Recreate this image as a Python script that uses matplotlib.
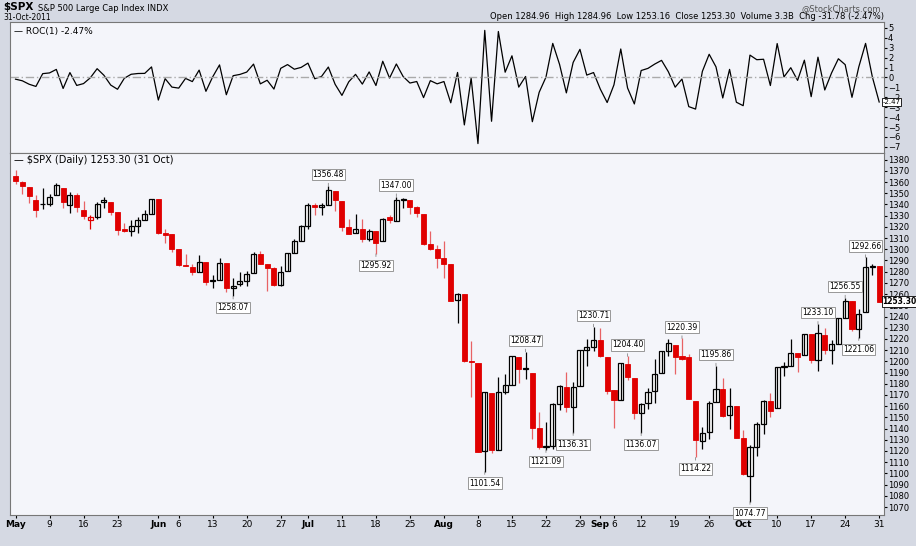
import matplotlib

matplotlib.use("Agg")
import matplotlib.pyplot as plt
import numpy as np

# S&P 500 daily, 2 May - 31 Oct 2011
dates = (
    [f"May {d}" for d in [2, 3, 4, 5, 6, 9, 10, 11, 12, 13, 16, 17, 18, 19, 20, 23, 24, 25, 26, 27, 31]]
    + [f"Jun {d}" for d in [1, 2, 3, 6, 7, 8, 9, 10, 13, 14, 15, 16, 17, 20, 21, 22, 23, 24, 27, 28, 29, 30]]
    + [f"Jul {d}" for d in [1, 5, 6, 7, 8, 11, 12, 13, 14, 15, 18, 19, 20, 21, 22, 25, 26, 27, 28, 29]]
    + [f"Aug {d}" for d in [1, 2, 3, 4, 5, 8, 9, 10, 11, 12, 15, 16, 17, 18, 19, 22, 23, 24, 25, 26, 29, 30, 31]]
    + [f"Sep {d}" for d in [1, 2, 6, 7, 8, 9, 12, 13, 14, 15, 16, 19, 20, 21, 22, 23, 26, 27, 28, 29, 30]]
    + [f"Oct {d}" for d in [3, 4, 5, 6, 7, 10, 11, 12, 13, 14, 17, 18, 19, 20, 21, 24, 25, 26, 27, 28, 31]]
)
prev_close = 1363.61

opens = [1365.2, 1359.8, 1355.9, 1344.2, 1340.2, 1340.2, 1348.3, 1354.5, 1339.4, 1348.7, 1334.8, 1326.1, 1328.5, 1342.4, 1342.0, 1333.1, 1317.7, 1316.4, 1320.6, 1325.7, 1331.1,
         1345.2, 1314.6, 1313.6, 1300.3, 1286.3, 1284.6, 1279.6, 1288.6, 1271.6, 1272.2, 1287.9, 1265.5, 1268.6, 1271.5, 1278.4, 1295.5, 1286.6, 1283.0, 1268.4, 1280.2, 1296.8, 1307.6,
         1320.6, 1339.6, 1337.6, 1339.6, 1352.0, 1343.3, 1319.6, 1314.5, 1317.7, 1308.9, 1315.9, 1307.1, 1328.7, 1325.6, 1343.8, 1344.3, 1337.4, 1331.9, 1304.8, 1300.1,
         1292.6, 1286.6, 1254.3, 1260.2, 1200.3, 1198.5, 1120.2, 1171.8, 1121.3, 1172.9, 1178.9, 1204.2, 1192.9, 1189.6, 1140.5, 1123.6, 1124.4, 1162.2, 1176.7, 1158.9, 1177.9, 1209.8, 1213.0,
         1219.1, 1203.9, 1174.0, 1165.9, 1198.0, 1185.4, 1153.5, 1162.6, 1173.3, 1189.4, 1209.2, 1215.0, 1204.5, 1203.6, 1164.6, 1128.8, 1136.9, 1163.3, 1175.4, 1151.7, 1159.9,
         1131.2, 1097.4, 1124.0, 1144.1, 1165.0, 1158.1, 1194.6, 1196.2, 1207.0, 1205.7, 1224.5, 1200.8, 1223.5, 1209.9, 1215.4, 1238.7, 1254.0, 1229.2, 1244.0, 1284.4, 1285.0]
highs = [1370.58, 1360.8, 1355.9, 1348.0, 1354.4, 1349.4, 1359.4, 1354.5, 1351.1, 1350.5, 1343.3, 1330.4, 1341.8, 1346.8, 1342.0, 1333.1, 1323.7, 1325.9, 1328.5, 1334.6, 1345.2,
         1345.2, 1318.0, 1313.6, 1300.3, 1296.2, 1287.0, 1294.5, 1288.6, 1277.0, 1292.5, 1287.9, 1274.1, 1279.8, 1280.4, 1297.6, 1298.6, 1286.8, 1284.0, 1284.9, 1296.8, 1309.2, 1322.0,
         1341.0, 1340.9, 1340.9, 1356.48, 1352.0, 1343.3, 1327.2, 1331.5, 1326.7, 1317.7, 1315.9, 1328.1, 1330.4, 1347.0, 1346.1, 1344.3, 1338.5, 1331.9, 1316.3, 1304.2,
         1307.4, 1286.6, 1261.2, 1260.2, 1218.1, 1198.5, 1172.9, 1171.8, 1186.3, 1189.0, 1204.5, 1204.2, 1208.47, 1189.6, 1154.5, 1145.5, 1162.4, 1178.5, 1190.7, 1181.2, 1210.1, 1220.1, 1230.71,
         1229.3, 1203.9, 1174.0, 1198.6, 1204.40, 1185.4, 1162.5, 1176.4, 1202.4, 1209.1, 1220.1, 1215.0, 1220.39, 1206.3, 1164.6, 1141.7, 1164.2, 1195.86, 1184.7, 1175.9, 1159.9,
         1139.0, 1125.1, 1146.1, 1165.6, 1171.4, 1194.9, 1199.2, 1220.3, 1207.5, 1224.6, 1224.5, 1233.10, 1229.6, 1219.4, 1239.0, 1256.55, 1254.0, 1246.3, 1292.66, 1287.1, 1284.96]
lows = [1358.6, 1349.5, 1341.5, 1329.2, 1335.6, 1338.6, 1348.3, 1336.4, 1332.0, 1333.4, 1327.3, 1318.5, 1326.6, 1336.4, 1330.7, 1312.9, 1315.4, 1311.8, 1314.4, 1325.7, 1331.1,
        1313.7, 1305.6, 1297.9, 1284.9, 1284.7, 1277.4, 1279.6, 1268.3, 1265.6, 1272.2, 1261.9, 1258.07, 1267.4, 1267.6, 1278.4, 1286.8, 1262.9, 1267.5, 1267.5, 1280.2, 1296.8, 1307.6,
        1318.2, 1330.9, 1330.9, 1339.6, 1333.7, 1316.4, 1313.3, 1314.5, 1306.5, 1307.3, 1295.92, 1307.1, 1323.7, 1325.6, 1336.9, 1331.1, 1329.1, 1303.5, 1299.2, 1282.9,
        1274.7, 1254.0, 1234.6, 1199.5, 1168.1, 1119.3, 1101.54, 1118.0, 1121.3, 1170.7, 1178.9, 1180.5, 1184.4, 1131.0, 1122.1, 1121.09, 1121.7, 1156.3, 1155.0, 1135.91, 1177.9, 1195.8, 1209.4,
        1203.9, 1170.6, 1140.1, 1165.9, 1183.3, 1148.4, 1136.07, 1157.4, 1162.7, 1189.4, 1204.5, 1188.4, 1201.3, 1166.2, 1114.22, 1121.4, 1131.1, 1163.3, 1150.4, 1139.9, 1131.3,
        1098.9, 1074.77, 1115.7, 1134.9, 1150.3, 1158.1, 1187.3, 1196.2, 1190.6, 1205.7, 1198.6, 1191.5, 1206.3, 1197.3, 1215.4, 1238.7, 1226.8, 1221.06, 1244.0, 1277.0, 1253.16]
closes = [1361.22, 1356.62, 1347.32, 1335.10, 1340.20, 1346.29, 1357.16, 1342.08, 1348.65, 1337.77, 1329.47, 1328.98, 1340.68, 1343.60, 1333.27, 1317.37, 1316.28, 1320.47, 1325.69, 1331.10, 1345.20,
          1314.55, 1312.94, 1300.16, 1286.17, 1284.94, 1279.56, 1289.00, 1270.98, 1271.83, 1287.87, 1265.42, 1267.64, 1271.50, 1278.36, 1295.52, 1287.14, 1283.50, 1268.45, 1280.10, 1296.67, 1307.41, 1320.64,
          1339.67, 1337.88, 1339.22, 1353.22, 1343.80, 1319.49, 1313.64, 1317.72, 1308.87, 1316.14, 1305.44, 1326.73, 1325.84, 1343.80, 1345.02, 1337.43, 1331.94, 1304.89, 1300.67, 1292.28,
          1286.94, 1254.05, 1260.34, 1200.07, 1199.38, 1119.46, 1172.53, 1120.76, 1172.64, 1178.81, 1204.49, 1192.76, 1193.89, 1140.65, 1123.53, 1123.82, 1162.35, 1177.60, 1159.27, 1176.80, 1210.08, 1212.92, 1218.89,
          1204.42, 1173.97, 1165.24, 1198.62, 1185.90, 1154.23, 1162.27, 1172.87, 1188.68, 1209.11, 1216.01, 1204.09, 1202.09, 1166.76, 1129.56, 1136.43, 1162.95, 1175.38, 1151.06, 1160.40, 1131.42,
          1099.23, 1123.95, 1144.03, 1164.97, 1155.46, 1194.89, 1195.54, 1207.25, 1203.66, 1224.58, 1200.86, 1225.38, 1209.88, 1215.39, 1238.25, 1254.19, 1229.05, 1242.00, 1284.59, 1285.09, 1253.30]

# labelled highs and lows: (date, value, above?)
labels = [("Jul 7", 1356.48, True), ("Jul 21", 1347.00, True), ("Jul 18", 1295.92, False),
          ("Jun 16", 1258.07, False), ("Aug 9", 1101.54, False), ("Aug 17", 1208.47, True),
          ("Aug 22", 1121.09, False), ("Aug 26", 1136.31, False), ("Aug 31", 1230.71, True),
          ("Sep 8", 1204.40, True), ("Sep 12", 1136.07, False), ("Sep 20", 1220.39, True),
          ("Sep 22", 1114.22, False), ("Sep 27", 1195.86, True), ("Oct 4", 1074.77, False),
          ("Oct 18", 1233.10, True), ("Oct 24", 1256.55, True), ("Oct 26", 1221.06, False),
          ("Oct 27", 1292.66, True)]

RED = "#e00000"
BG = "#f4f5fa"
OUTER = "#d5d9e3"

x = np.arange(len(closes))
all_closes = [prev_close] + closes
roc = [(all_closes[i + 1] / all_closes[i] - 1) * 100 for i in range(len(closes))]

fig = plt.figure(figsize=(9.16, 5.46), dpi=100, facecolor=OUTER)
ax_roc = fig.add_axes([0.011, 0.720, 0.954, 0.240], facecolor=BG)
ax = fig.add_axes([0.011, 0.057, 0.954, 0.663], facecolor=BG, sharex=ax_roc)

# ROC panel
ax_roc.plot(x, roc, color="black", lw=0.9)
ax_roc.axhline(0, color="#aaaaaa", lw=1, ls=(0, (6, 2, 1, 2)))
ax_roc.set_ylim(-7.6, 5.6)
ax_roc.yaxis.tick_right()
ax_roc.set_yticks(range(-7, 6))
ax_roc.tick_params(axis="y", labelsize=6, length=2, pad=1)
ax_roc.tick_params(axis="x", bottom=False, labelbottom=False)
ax_roc.text(0.004, 0.96, "\u2014 ROC(1) -2.47%", transform=ax_roc.transAxes, fontsize=6.5, va="top")
ax_roc.annotate(f"{roc[-1]:.2f}", (x[-1], roc[-1]), xytext=(127.5, roc[-1]), fontsize=5, va="center",
                annotation_clip=False,
                bbox=dict(boxstyle="square,pad=0.1", fc="white", ec="black", lw=0.6))

# candlesticks
for i in x:
    o, h, l, c = opens[i], highs[i], lows[i], closes[i]
    down = c < all_closes[i]
    col = RED if down else "black"
    ax.vlines(i, l, h, color=col, lw=0.9, alpha=0.6 if (c < o and down) else 1)
    lo, hi = min(o, c), max(o, c)
    if c < o:
        ax.bar(i, max(hi - lo, 0.6), bottom=lo, width=0.75, color=RED, edgecolor=RED, lw=0.6)
    else:
        ax.bar(i, max(hi - lo, 0.6), bottom=lo, width=0.75, facecolor="white", edgecolor=col, lw=0.9)

for d, v, above in labels:
    i = dates.index(d)
    ax.annotate(f"{v:.2f}", (i, v), xytext=(0, 5 if above else -5), textcoords="offset points",
                ha="center", va="bottom" if above else "top", fontsize=5.5,
                bbox=dict(boxstyle="square,pad=0.15", fc="white", ec="#888888", lw=0.6),
                arrowprops=dict(arrowstyle="-", color="#888888", lw=0.6))

ax.set_ylim(1063, 1386)
ax.set_xlim(-0.8, len(x) - 0.3)
ax.yaxis.tick_right()
ax.set_yticks(range(1070, 1381, 10))
ax.tick_params(axis="y", labelsize=6, length=2, pad=1)
ax.text(0.004, 0.995, "\u2014 $SPX (Daily) 1253.30 (31 Oct)", transform=ax.transAxes, fontsize=7, va="top")
ax.annotate("1253.30", (x[-1], closes[-1]), xytext=(127.5, closes[-1]), fontsize=5.5, fontweight="bold",
            va="center", annotation_clip=False,
            bbox=dict(boxstyle="square,pad=0.1", fc="white", ec="black", lw=0.6))

tick_days = ["May 2", "May 9", "May 16", "May 23", "Jun 1", "Jun 6", "Jun 13", "Jun 20", "Jun 27",
             "Jul 1", "Jul 11", "Jul 18", "Jul 25", "Aug 1", "Aug 8", "Aug 15", "Aug 22", "Aug 29",
             "Sep 1", "Sep 6", "Sep 12", "Sep 19", "Sep 26", "Oct 3", "Oct 10", "Oct 17", "Oct 24", "Oct 31"]
ticks = [dates.index(d) for d in tick_days]
ax.set_xticks(ticks)
ax.set_xticklabels([d.split()[0] if d.split()[1] in ("1", "2", "3") else d.split()[1] for d in tick_days],
                   fontsize=6.5)
for lab in ax.get_xticklabels():
    if lab.get_text().isalpha():
        lab.set_fontweight("bold")
ax.tick_params(axis="x", length=2, pad=2)

for a in (ax, ax_roc):
    for s in a.spines.values():
        s.set_color("#777777")
        s.set_linewidth(0.8)

fig.text(0.004, 0.997, "$SPX", fontsize=7.5, fontweight="bold", va="top")
fig.text(0.042, 0.993, "S&P 500 Large Cap Index INDX", fontsize=6, va="top")
fig.text(0.004, 0.968, "31-Oct-2011", fontsize=5.5, va="center")
fig.text(0.962, 0.993, "@StockCharts.com", fontsize=6, va="top", ha="right", color="#555555")
fig.text(0.965, 0.970, "Open 1284.96  High 1284.96  Low 1253.16  Close 1253.30  Volume 3.3B  Chg -31.78 (-2.47%)",
         fontsize=6, va="center", ha="right")

fig.savefig("out.png", dpi=100, facecolor=OUTER)
